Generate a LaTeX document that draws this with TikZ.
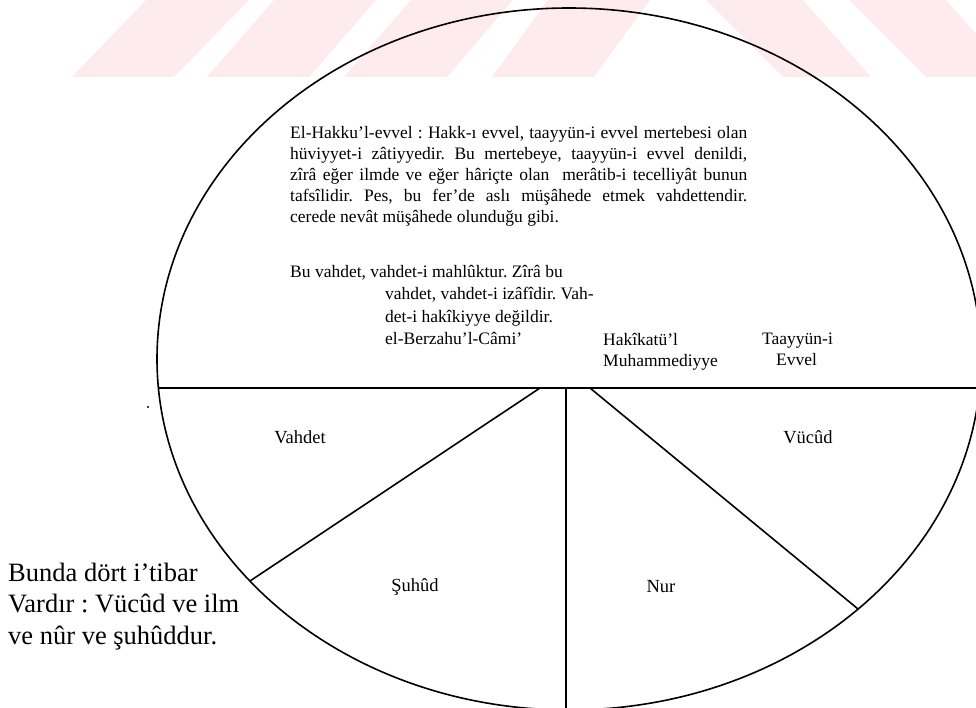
\documentclass[tikz,border=0pt]{standalone}
\usepackage{fontspec}
\setmainfont{Liberation Serif}
\frenchspacing
\definecolor{wmpink}{RGB}{253,235,238}
\newlength{\parw}\setlength{\parw}{457pt}
\begin{document}
\frenchspacing
\begin{tikzpicture}[x=1pt,y=-1pt,
  rule/.style={line width=1.6pt,black},
  ptext/.style={inner sep=0pt,anchor=base west,font=\fontsize{17.5}{21}\selectfont},
  lab/.style={inner sep=0pt,font=\fontsize{18.5}{22}\selectfont},
  side/.style={inner sep=0pt,anchor=base west,font=\fontsize{26.5}{31.5}\selectfont}]
\useasboundingbox (0,0) rectangle (976,708);
\begin{scope}
\clip (0,0) rectangle (976,708);
% watermark stripes
\fill[wmpink] (72,77) -- (174,77) -- (249,0) -- (146,0) -- cycle;
\fill[wmpink] (207,77) -- (309,77) -- (376,0) -- (274,0) -- cycle;
\fill[wmpink] (344,77) -- (447,77) -- (513,0) -- (411,0) -- cycle;
\fill[wmpink] (492,77) -- (594,77) -- (650,0) -- (548,0) -- cycle;
\fill[wmpink] (706,0) -- (803,0) -- (871,77) -- (783,77) -- cycle;
\fill[wmpink] (849,0) -- (946,0) -- (1014,77) -- (926,77) -- cycle;
% ellipse
\coordinate (C) at (569,359);
\draw[rule] (C) ellipse [x radius=412pt, y radius=351pt];
% connectors
\coordinate (HL) at (158,388);
\coordinate (HR) at (990,388);
\coordinate (J1) at (540,388);
\coordinate (J2) at (566,388);
\coordinate (J3) at (590,388);
\coordinate (E1) at (250,581);
\coordinate (E2) at (566,715);
\coordinate (E3) at (858,609);
\draw[rule] (HL) -- (HR);
\draw[rule] (J1) -- (E1);
\draw[rule] (J2) -- (E2);
\draw[rule] (J3) -- (E3);
\end{scope}
% speck
\coordinate (dot) at (148,407);
\fill (dot) circle [radius=1.1pt];
% upper paragraph
\node[ptext] (p1) at (290,139) {\makebox[\parw][s]{El-Hakku’l-evvel : Hakk-ı evvel, taayyün-i evvel mertebesi olan}};
\node[ptext] (p2) at (290,160) {\makebox[\parw][s]{hüviyyet-i zâtiyyedir. Bu mertebeye, taayyün-i evvel denildi,}};
\node[ptext] (p3) at (290,181) {\makebox[\parw][s]{zîrâ eğer ilmde ve eğer hâriçte olan \ merâtib-i tecelliyât bunun}};
\node[ptext] (p4) at (290,202) {\makebox[\parw][s]{tafsîlidir. Pes, bu fer’de aslı müşâhede etmek vahdettendir.}};
\node[ptext] (p5) at (290,223) {cerede nevât müşâhede olunduğu gibi.};
% second block
\node[ptext] (q1) at (290,278) {Bu vahdet, vahdet-i mahlûktur. Zîrâ bu};
\node[ptext] (q2) at (385,300) {vahdet, vahdet-i izâfîdir. Vah-};
\node[ptext] (q3) at (385,322) {det-i hakîkiyye değildir.};
\node[ptext] (q4) at (385,344) {el-Berzahu’l-Câmi’};
\node[ptext] (h1) at (603,345) {Hakîkatü’l};
\node[ptext] (h2) at (603,366) {Muhammediyye};
\node[ptext] (t1) at (762,344) {Taayyün-i};
\node[ptext] (t2) at (776,365) {Evvel};
% sector labels
\node[lab] (vahdet) at (300,437) {Vahdet};
\node[lab] (vucud) at (808,437) {Vücûd};
\node[lab] (suhud) at (415,587) {Şuhûd};
\node[lab] (nur) at (661,587) {Nur};
% side text
\node[side] (s1) at (8,581) {Bunda dört i’tibar};
\node[side] (s2) at (8,612) {Vardır : Vücûd ve ilm};
\node[side] (s3) at (8,644) {ve nûr ve şuhûddur.};
\end{tikzpicture}
\end{document}
